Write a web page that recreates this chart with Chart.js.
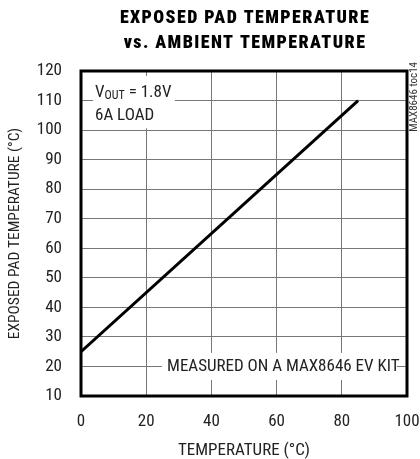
<!DOCTYPE html>
<html><head><meta charset="utf-8">
<script src="https://cdn.jsdelivr.net/npm/chart.js@4"></script>
<style>html,body{margin:0;padding:0;background:#fff}#wrap{width:420px;height:459px}</style>
</head><body><div id="wrap"><canvas id="c" width="420" height="459"></canvas></div>
<script>
// ---- data ----
const ambientTemp = [0, 85];          // x: ambient temperature (°C)
const padTemp = [25, 110];            // y: exposed pad temperature (°C)
const xTickValues = [0, 20, 40, 60, 80, 100];
const yTickValues = [10, 20, 30, 40, 50, 60, 70, 80, 90, 100, 110, 120];
const titleLines = ['EXPOSED PAD TEMPERATURE', 'vs. AMBIENT TEMPERATURE'];
const xAxisTitle = 'TEMPERATURE (°C)';
const yAxisTitle = 'EXPOSED PAD TEMPERATURE (°C)';
const noteVout = ['V', 'OUT', ' = 1.8V'];
const noteLoad = '6A LOAD';
const noteKit = 'MEASURED ON A MAX8646 EV KIT';
const tocLabel = 'MAX8646 toc14';

const NARROW = "'Roboto Condensed', 'DejaVu Sans Condensed', sans-serif";
const TXT = '#222';

const points = ambientTemp.map((x, i) => ({x, y: padTemp[i]}));

const decor = {
  id: 'decor',
  beforeDatasetsDraw(chart) {
    const {ctx, scales: {x, y}} = chart;
    ctx.save();
    ctx.fillStyle = '#fff';
    const bx1 = x.getPixelForValue(3.7), bx2 = x.getPixelForValue(28.8);
    const by1 = y.getPixelForValue(118.3), by2 = y.getPixelForValue(100.6);
    ctx.fillRect(bx1, by1, bx2 - bx1, by2 - by1);
    const kx1 = x.getPixelForValue(24.8), kx2 = x.getPixelForValue(96.9);
    const ky1 = y.getPixelForValue(24.6), ky2 = y.getPixelForValue(15.4);
    ctx.fillRect(kx1, ky1, kx2 - kx1, ky2 - ky1);

    ctx.fillStyle = TXT;
    ctx.textBaseline = 'middle';
    ctx.textAlign = 'left';
    let tx = x.getPixelForValue(4.3);
    const ty = y.getPixelForValue(112.5);
    ctx.font = '17px ' + NARROW;
    ctx.fillText(noteVout[0], tx, ty);
    tx += ctx.measureText(noteVout[0]).width;
    ctx.font = '12px ' + NARROW;
    ctx.fillText(noteVout[1], tx, ty + 3);
    tx += ctx.measureText(noteVout[1]).width;
    ctx.font = '17px ' + NARROW;
    ctx.fillText(noteVout[2], tx, ty);
    ctx.fillText(noteLoad, x.getPixelForValue(4.3), y.getPixelForValue(104.7));
    ctx.fillText(noteKit, x.getPixelForValue(26.4), y.getPixelForValue(20));
    ctx.restore();
  },
  afterDatasetsDraw(chart) {
    const {ctx, chartArea: a} = chart;
    ctx.save();
    ctx.strokeStyle = '#000';
    ctx.lineWidth = 3;
    ctx.strokeRect(a.left, a.top, a.right - a.left, a.bottom - a.top);
    ctx.restore();
  },
  afterDraw(chart) {
    const {ctx, chartArea: a} = chart;
    ctx.save();
    ctx.fillStyle = '#000';
    ctx.textAlign = 'center';
    ctx.textBaseline = 'middle';
    ctx.font = "900 18px 'Roboto Condensed', sans-serif";
    ctx.letterSpacing = '1.4px';
    const cx = (a.left + a.right) / 2 + 1;
    ctx.fillText(titleLines[0], cx, 18);
    ctx.fillText(titleLines[1], cx, 43);
    ctx.letterSpacing = '0px';
    ctx.translate(a.right + 7, 62);
    ctx.rotate(-Math.PI / 2);
    ctx.textAlign = 'right';
    ctx.font = '11px ' + NARROW;
    ctx.fillStyle = '#333';
    ctx.fillText(tocLabel, 0, 0);
    ctx.restore();
  }
};

new Chart(document.getElementById('c'), {
  type: 'line',
  data: {
    datasets: [{
      data: points,
      borderColor: '#000',
      borderWidth: 3,
      pointRadius: 0,
      fill: false,
      tension: 0
    }]
  },
  options: {
    responsive: false,
    devicePixelRatio: 1,
    animation: false,
    layout: {padding: {top: 71, right: 13, left: 0, bottom: 0}},
    plugins: {legend: {display: false}, tooltip: {enabled: false}, title: {display: false}},
    scales: {
      x: {
        type: 'linear', min: 0, max: 100,
        afterBuildTicks: s => { s.ticks = xTickValues.map(v => ({value: v})); },
        afterFit: s => { s.height = 63; s.paddingLeft = 0; s.paddingRight = 0; },
        grid: {color: '#777', lineWidth: 1, drawTicks: false},
        border: {display: false},
        ticks: {color: TXT, padding: 16, font: {family: NARROW, size: 17}},
        title: {display: true, text: xAxisTitle, color: TXT, font: {family: NARROW, size: 17}, padding: {top: 0, bottom: -2}}
      },
      y: {
        type: 'linear', min: 10, max: 120,
        afterBuildTicks: s => { s.ticks = yTickValues.map(v => ({value: v})); },
        afterFit: s => { s.width = 81; s.paddingTop = 0; s.paddingBottom = 0; },
        grid: {color: '#777', lineWidth: 1, drawTicks: false},
        border: {display: false},
        ticks: {color: TXT, padding: 19, font: {family: NARROW, size: 17}},
        title: {display: true, text: yAxisTitle, color: TXT, font: {family: NARROW, size: 15.5}, padding: {top: 6, bottom: 0}}
      }
    }
  },
  plugins: [decor]
});
</script>
</body></html>
